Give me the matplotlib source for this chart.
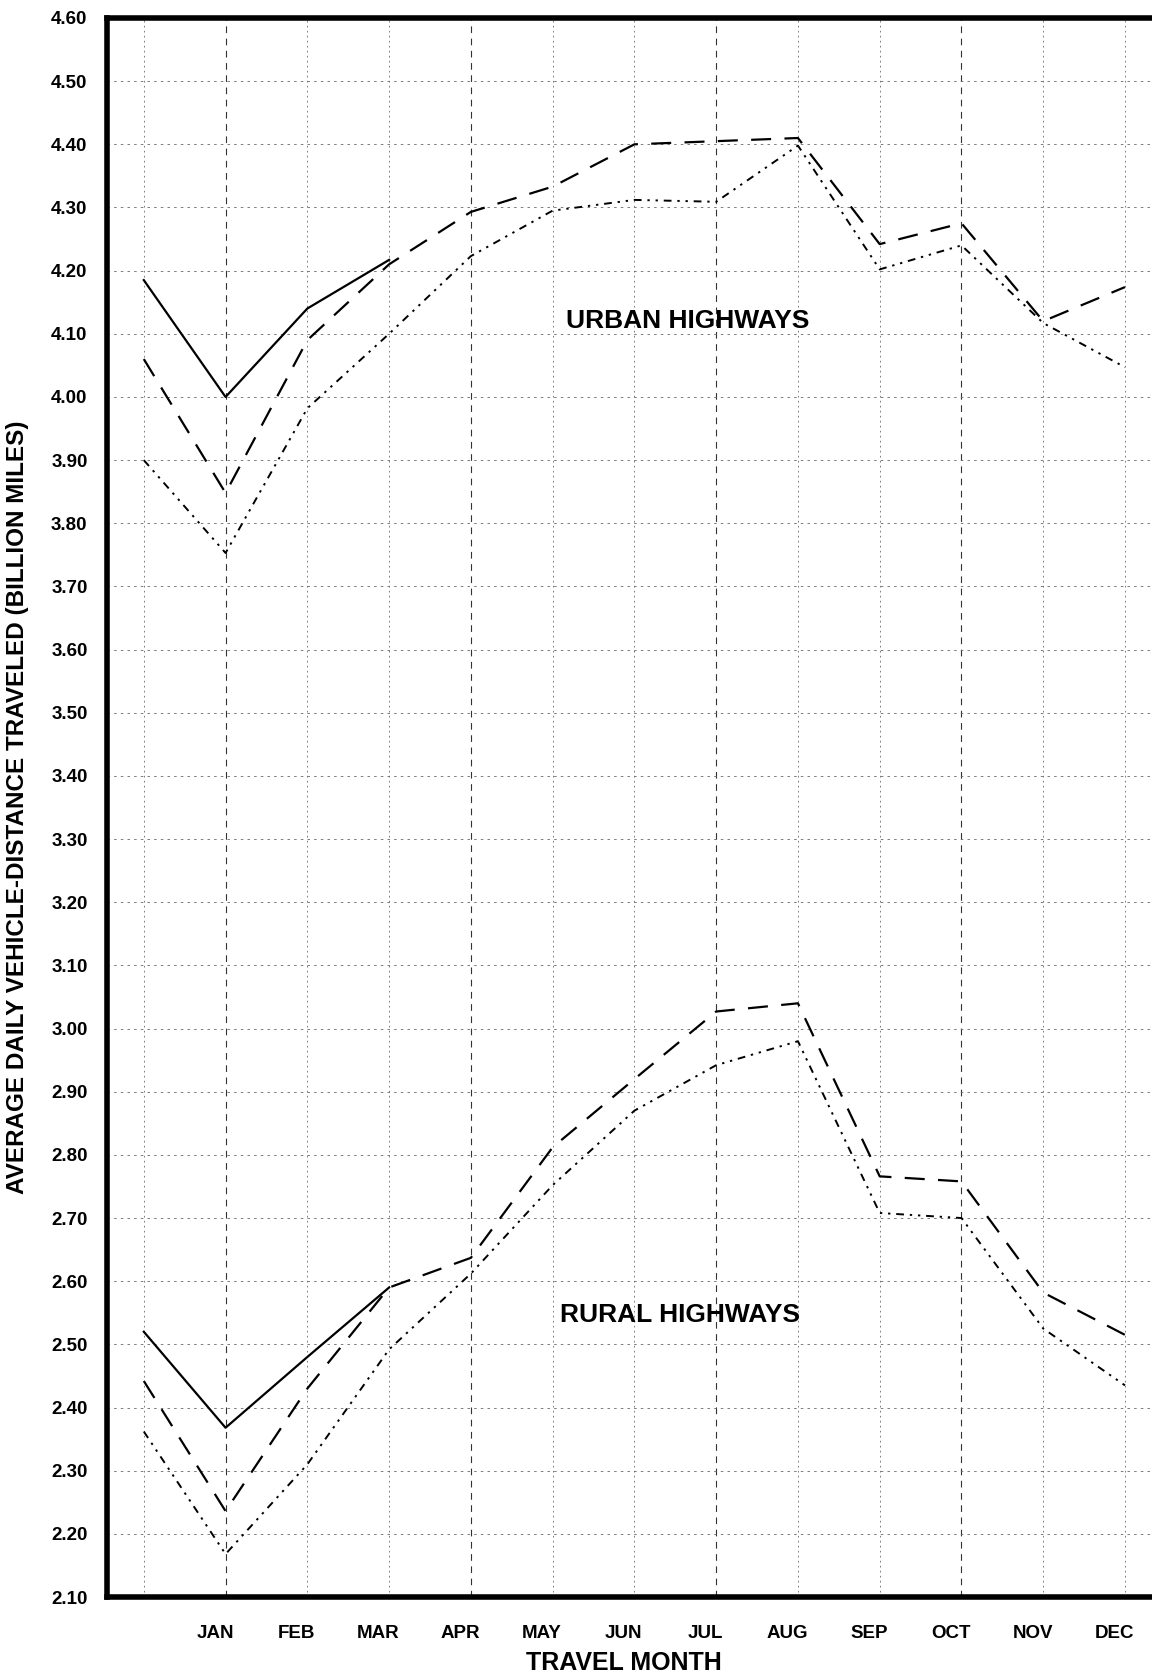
import matplotlib.pyplot as plt

plt.rcParams['font.family'] = ['Liberation Sans', 'DejaVu Sans']

# x position 0 is the unlabeled start point, 1..12 are JAN..DEC
months = ["JAN", "FEB", "MAR", "APR", "MAY", "JUN", "JUL", "AUG", "SEP", "OCT", "NOV", "DEC"]

urban_solid = [4.185, 4.00, 4.14, 4.217]
urban_dashed = [4.06, 3.848, 4.09, 4.21, 4.293, 4.333, 4.40, 4.405, 4.41, 4.242, 4.275, 4.12, 4.174]
urban_dotted = [3.90, 3.753, 3.982, 4.10, 4.223, 4.295, 4.312, 4.309, 4.398, 4.202, 4.240, 4.117, 4.047]

rural_solid = [2.52, 2.368, 2.48, 2.59]
rural_dashed = [2.442, 2.236, 2.43, 2.59, 2.637, 2.812, 2.92, 3.027, 3.04, 2.766, 2.758, 2.582, 2.515]
rural_dotted = [2.362, 2.168, 2.31, 2.492, 2.612, 2.752, 2.87, 2.942, 2.98, 2.708, 2.700, 2.525, 2.435]

W, H = 1152, 1673
fig = plt.figure(figsize=(W / 100, H / 100), dpi=100)
left, top, bottom = 107 / W, 1 - 18 / H, 1 - 1597 / H
ax = fig.add_axes([left, bottom, 1.0 - left, top - bottom])

ax.set_xlim(-0.45, 12.33)
ax.set_ylim(2.10, 4.60)

# grid
for i in range(13):
    if i in (1, 4, 7, 10):
        ax.axvline(i, color="#333333", lw=0.8, ls=(0, (6, 5)), zorder=1)
    else:
        ax.axvline(i, color="#666666", lw=0.6, ls=(0, (2, 4)), zorder=1)
for k in range(1, 25):
    ax.axhline(2.10 + k * 0.1, color="#666666", lw=0.6, ls=(0, (3, 5)), zorder=1)

dash = (0, (9, 6))
dotdash = (0, (4, 3, 1.2, 3, 1.2, 3))

x13 = list(range(13))
ax.plot(range(len(urban_solid)), urban_solid, color="black", lw=1.6, zorder=3)
ax.plot(x13, urban_dashed, color="black", lw=1.6, ls=dash, zorder=3)
ax.plot(x13, urban_dotted, color="black", lw=1.4, ls=dotdash, zorder=3)
ax.plot(range(len(rural_solid)), rural_solid, color="black", lw=1.6, zorder=3)
ax.plot(x13, rural_dashed, color="black", lw=1.6, ls=dash, zorder=3)
ax.plot(x13, rural_dotted, color="black", lw=1.4, ls=dotdash, zorder=3)

ax.text(6.65, 4.12, "URBAN HIGHWAYS", fontsize=19, fontweight="bold", ha="center", va="center")
ax.text(6.56, 2.546, "RURAL HIGHWAYS", fontsize=19, fontweight="bold", ha="center", va="center")

# axes / ticks
ax.set_yticks([2.10 + k * 0.1 for k in range(26)])
ax.set_yticklabels(["%.2f" % (2.10 + k * 0.1) for k in range(26)], fontsize=13.5, fontweight="bold")
ax.set_xticks([i - 0.13 for i in range(1, 13)])
ax.set_xticklabels(months, fontsize=13.5, fontweight="bold")
ax.tick_params(axis="both", length=0)
ax.tick_params(axis="x", pad=20)
ax.tick_params(axis="y", pad=14)

ax.set_xlabel("TRAVEL MONTH", fontsize=18, fontweight="bold")
ax.set_ylabel("AVERAGE DAILY VEHICLE-DISTANCE TRAVELED (BILLION MILES)", fontsize=17.5,
              fontweight="bold")
ax.xaxis.set_label_coords((624 / W - left) / (1.0 - left), -0.034)
ax.yaxis.set_label_coords(-0.075, 0.5)

for s in ("left", "bottom", "top"):
    ax.spines[s].set_linewidth(4)
ax.spines["right"].set_visible(False)

fig.savefig("out.png", dpi=100)
